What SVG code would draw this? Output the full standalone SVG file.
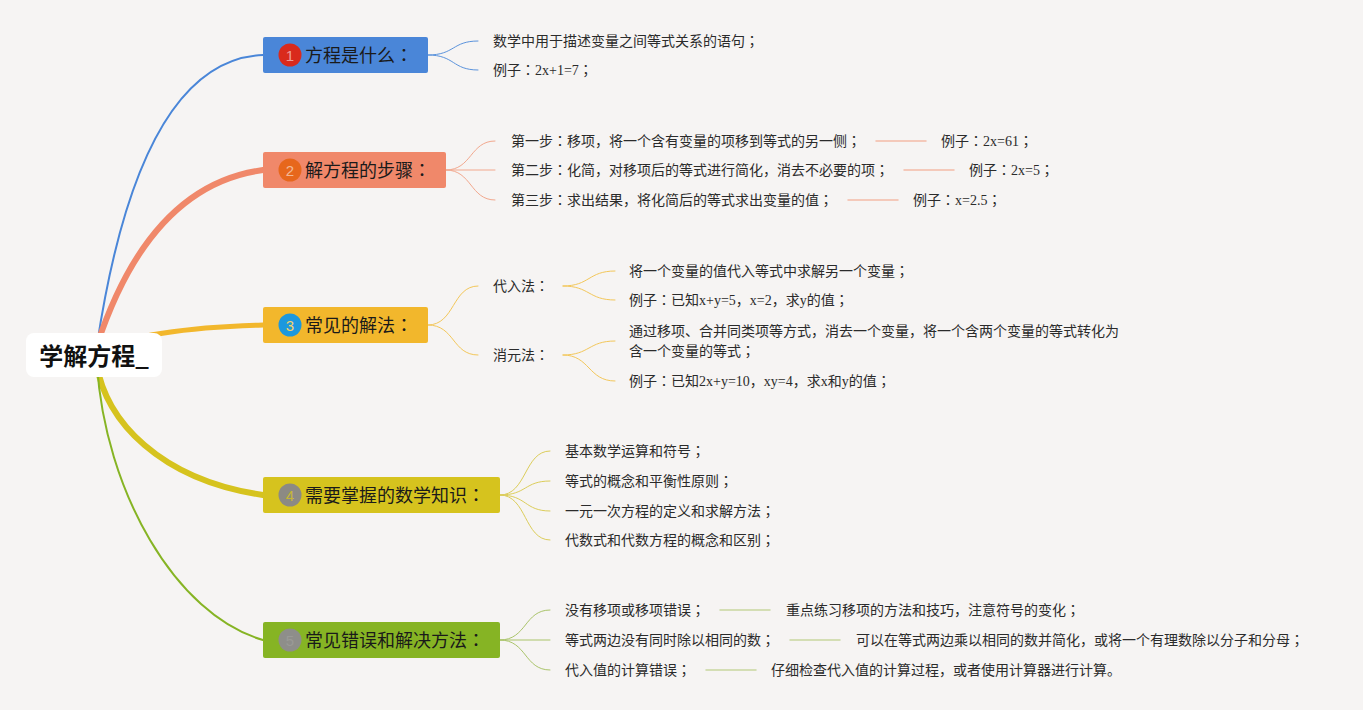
<svg xmlns="http://www.w3.org/2000/svg" width="1363" height="710" viewBox="0 0 1363 710">
<style>
.t{font-family:"Liberation Serif","Noto Sans CJK SC",serif;font-size:14px;fill:#2b2b2b}
.h{font-family:"Noto Sans CJK SC","Liberation Sans",sans-serif;font-size:18px;fill:#1a1a1a}
.p{font-family:"Noto Sans CJK JP","Noto Sans CJK SC",sans-serif}
.n{font-family:"Liberation Sans","Noto Sans CJK SC",sans-serif;font-size:15px;text-anchor:middle;fill:#ffffff;fill-opacity:0.55}
.root{font-family:"Noto Sans CJK SC","Liberation Sans",sans-serif;font-size:24px;font-weight:bold;fill:#111;text-anchor:middle}
.c{fill:none;stroke-linecap:round}
.s1{stroke:#5b93dc;stroke-width:1}
.s2{stroke:#f2a88e;stroke-width:1}
.s3{stroke:#f3c75a;stroke-width:1}
.s4{stroke:#dccd5a;stroke-width:1}
.s5{stroke:#aac46a;stroke-width:1}
.sep2{stroke:#f4bba8;stroke-width:1.5}
.sep5{stroke:#c9d6a0;stroke-width:1.5}
</style>
<rect x="0" y="0" width="1363" height="710" fill="#f6f4f3"/>
<g id="connectors">
  <path class="c" d="M 97 345 Q 140 60 263 55" stroke="#4a86d8" stroke-width="2"/>
  <path class="c" d="M 97 345 Q 150 185 263 170" stroke="#f0886a" stroke-width="6"/>
  <path class="c" d="M 97 350 Q 150 328 263 325" stroke="#f2b72c" stroke-width="5"/>
  <path class="c" d="M 97 365 C 105 420, 160 480, 263 495" stroke="#d6c31e" stroke-width="6"/>
  <path class="c" d="M 97 365 C 105 490, 175 615, 263 640" stroke="#86b424" stroke-width="2"/>

  <path class="c s1" d="M 428 55 C 455 55, 452 41, 478 41"/>
  <path class="c s1" d="M 428 55 C 455 55, 452 70, 478 70"/>

  <path class="c s2" d="M 446 170 C 472 170, 470 141, 495 141"/>
  <path class="c s2" d="M 446 170 L 495 170"/>
  <path class="c s2" d="M 446 170 C 472 170, 470 200, 495 200"/>
  <path class="c sep2" d="M 876 141 H 926"/>
  <path class="c sep2" d="M 904 170 H 954"/>
  <path class="c sep2" d="M 848 200 H 898"/>

  <path class="c s3" d="M 428 325 C 455 325, 452 286, 478 286"/>
  <path class="c s3" d="M 428 325 C 455 325, 452 355, 478 355"/>
  <path class="c s3" d="M 563 286 C 590 286, 588 271, 615 271"/>
  <path class="c s3" d="M 563 286 C 590 286, 588 300, 615 300"/>
  <path class="c s3" d="M 563 355 C 590 355, 588 341, 615 341"/>
  <path class="c s3" d="M 563 355 C 590 355, 588 381, 615 381"/>

  <path class="c s4" d="M 500 495 C 527 495, 524 451, 550 451"/>
  <path class="c s4" d="M 500 495 C 527 495, 524 481, 550 481"/>
  <path class="c s4" d="M 500 495 C 527 495, 524 511, 550 511"/>
  <path class="c s4" d="M 500 495 C 527 495, 524 540, 550 540"/>

  <path class="c s5" d="M 500 640 C 527 640, 524 610, 550 610"/>
  <path class="c s5" d="M 500 640 L 550 640"/>
  <path class="c s5" d="M 500 640 C 527 640, 524 670, 550 670"/>
  <path class="c sep5" d="M 720 610 H 770"/>
  <path class="c sep5" d="M 790 640 H 840"/>
  <path class="c sep5" d="M 706 670 H 756"/>
</g>

<g id="root">
  <rect x="26" y="333" width="136" height="44" rx="8" fill="#ffffff"/>
  <text class="root" x="94" y="365">学解方程_</text>
</g>

<g id="topic1">
  <rect x="263" y="37" width="165" height="36" rx="2" fill="#4a86d8"/>
  <circle cx="290" cy="55" r="11.5" fill="#d92a1c"/>
  <text class="n" x="290" y="60.5">1</text>
  <text class="h" x="305" y="61.5">方程是什么<tspan class="p">：</tspan></text>
</g>
<g id="t1a"><text class="t" x="493" y="46">数学中用于描述变量之间等式关系的语句<tspan class="p">；</tspan></text></g>
<g id="t1b"><text class="t" x="493" y="75">例子<tspan class="p">：</tspan>2x+1=7<tspan class="p">；</tspan></text></g>

<g id="topic2">
  <rect x="263" y="152" width="183" height="36" rx="2" fill="#f0886a"/>
  <circle cx="290" cy="170" r="11.5" fill="#e7671c"/>
  <text class="n" x="290" y="175.5">2</text>
  <text class="h" x="305" y="176.5">解方程的步骤<tspan class="p">：</tspan></text>
</g>
<g id="t2a"><text class="t" x="511" y="146">第一步<tspan class="p">：</tspan>移项，将一个含有变量的项移到等式的另一侧<tspan class="p">；</tspan></text></g>
<g id="t2a-ex"><text class="t" x="941" y="146">例子<tspan class="p">：</tspan>2x=61<tspan class="p">；</tspan></text></g>
<g id="t2b"><text class="t" x="511" y="175">第二步<tspan class="p">：</tspan>化简，对移项后的等式进行简化，消去不必要的项<tspan class="p">；</tspan></text></g>
<g id="t2b-ex"><text class="t" x="969" y="175">例子<tspan class="p">：</tspan>2x=5<tspan class="p">；</tspan></text></g>
<g id="t2c"><text class="t" x="511" y="205">第三步<tspan class="p">：</tspan>求出结果，将化简后的等式求出变量的值<tspan class="p">；</tspan></text></g>
<g id="t2c-ex"><text class="t" x="913" y="205">例子<tspan class="p">：</tspan>x=2.5<tspan class="p">；</tspan></text></g>

<g id="topic3">
  <rect x="263" y="307" width="165" height="36" rx="2" fill="#f2b72c"/>
  <circle cx="290" cy="325" r="11.5" fill="#1c98de"/>
  <text class="n" x="290" y="330.5" style="fill:#f5d36a;fill-opacity:1">3</text>
  <text class="h" x="305" y="331.5">常见的解法<tspan class="p">：</tspan></text>
</g>
<g id="t3a"><text class="t" x="493" y="291">代入法<tspan class="p">：</tspan></text></g>
<g id="t3a1"><text class="t" x="629" y="276">将一个变量的值代入等式中求解另一个变量<tspan class="p">；</tspan></text></g>
<g id="t3a2"><text class="t" x="629" y="305">例子<tspan class="p">：</tspan>已知x+y=5，x=2，求y的值<tspan class="p">；</tspan></text></g>
<g id="t3b"><text class="t" x="493" y="360">消元法<tspan class="p">：</tspan></text></g>
<g id="t3b1"><text class="t" x="629" y="336">通过移项、合并同类项等方式，消去一个变量，将一个含两个变量的等式转化为</text><text class="t" x="629" y="356">含一个变量的等式<tspan class="p">；</tspan></text></g>
<g id="t3b2"><text class="t" x="629" y="386">例子<tspan class="p">：</tspan>已知2x+y=10，xy=4，求x和y的值<tspan class="p">；</tspan></text></g>

<g id="topic4">
  <rect x="263" y="477" width="237" height="36" rx="2" fill="#d6c31e"/>
  <circle cx="290" cy="495" r="11.5" fill="#8c8a84"/>
  <text class="n" x="290" y="500.5" style="fill:#d6c31e;fill-opacity:0.8">4</text>
  <text class="h" x="305" y="501.5">需要掌握的数学知识<tspan class="p">：</tspan></text>
</g>
<g id="t4a"><text class="t" x="565" y="456">基本数学运算和符号<tspan class="p">；</tspan></text></g>
<g id="t4b"><text class="t" x="565" y="486">等式的概念和平衡性原则<tspan class="p">；</tspan></text></g>
<g id="t4c"><text class="t" x="565" y="516">一元一次方程的定义和求解方法<tspan class="p">；</tspan></text></g>
<g id="t4d"><text class="t" x="565" y="545">代数式和代数方程的概念和区别<tspan class="p">；</tspan></text></g>

<g id="topic5">
  <rect x="263" y="622" width="237" height="36" rx="2" fill="#86b424"/>
  <circle cx="290" cy="640" r="11.5" fill="#8e8e8a"/>
  <text class="n" x="290" y="645.5" style="fill:#9a9a96;fill-opacity:1">5</text>
  <text class="h" x="305" y="646.5">常见错误和解决方法<tspan class="p">：</tspan></text>
</g>
<g id="t5a"><text class="t" x="565" y="615">没有移项或移项错误<tspan class="p">；</tspan></text></g>
<g id="t5a-fix"><text class="t" x="786" y="615">重点练习移项的方法和技巧，注意符号的变化<tspan class="p">；</tspan></text></g>
<g id="t5b"><text class="t" x="565" y="645">等式两边没有同时除以相同的数<tspan class="p">；</tspan></text></g>
<g id="t5b-fix"><text class="t" x="856" y="645">可以在等式两边乘以相同的数并简化，或将一个有理数除以分子和分母<tspan class="p">；</tspan></text></g>
<g id="t5c"><text class="t" x="565" y="675">代入值的计算错误<tspan class="p">；</tspan></text></g>
<g id="t5c-fix"><text class="t" x="771" y="675">仔细检查代入值的计算过程，或者使用计算器进行计算。</text></g>
</svg>
